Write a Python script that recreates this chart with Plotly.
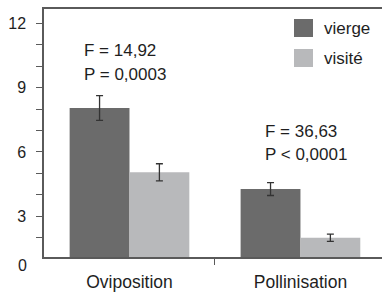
import plotly.graph_objects as go

categories = ["Oviposition", "Pollinisation"]
vierge = [8.05, 4.27]
vierge_err = [0.58, 0.30]
visite = [5.05, 2.0]
visite_err = [0.40, 0.17]
series_names = ["vierge", "visité"]
major_step = 3
stats_left = ["F = 14,92", "P = 0,0003"]
stats_right = ["F = 36,63", "P < 0,0001"]

DARK = "#6b6b6b"
LIGHT = "#b8b9bb"
TXT = "#1e1e1e"
AX = "#5a5a5a"
FONT = "Liberation Sans, Arial, sans-serif"

W, H = 382, 292
L, T, B = 44, 9, 35
ph = H - T - B
pw = W - L

fig = go.Figure()
fig.add_trace(go.Bar(x=categories, y=vierge, name=series_names[0], marker_color=DARK,
                     marker_line_width=0,
                     error_y=dict(type="data", array=vierge_err, color="#333333", thickness=1.3, width=3.5),
                     showlegend=False))
fig.add_trace(go.Bar(x=categories, y=visite, name=series_names[1], marker_color=LIGHT,
                     marker_line_width=0,
                     error_y=dict(type="data", array=visite_err, color="#333333", thickness=1.3, width=3.5),
                     showlegend=False))
fig.add_trace(go.Scatter(x=[0.5], y=[None], xaxis="x2", showlegend=False, hoverinfo="skip"))

xr = [-0.5, 1.477]
fig.update_layout(
    template="none",
    width=W, height=H,
    margin=dict(l=L, r=0, t=T, b=B, pad=0),
    paper_bgcolor="white", plot_bgcolor="white",
    barmode="group", bargap=0.30, bargroupgap=0,
    font=dict(family=FONT, size=17, color=TXT),
    xaxis=dict(type="category", range=xr, showline=True, linecolor=AX, linewidth=1.5,
               mirror=True, ticks="", showgrid=False, zeroline=False, automargin=False,
               tickfont=dict(size=17.5, color=TXT), ticklabelstandoff=8),
    xaxis2=dict(overlaying="x", anchor="y", side="bottom", range=xr, tickmode="array",
                tickvals=[0.5], ticks="outside", ticklen=7, tickwidth=1.3, tickcolor=AX,
                showticklabels=False, showline=False, showgrid=False, zeroline=False,
                automargin=False),
    yaxis=dict(range=[1.1, 12.67], tickmode="linear", tick0=0, dtick=major_step,
               ticks="outside", ticklen=6,
               tickwidth=1.3, tickcolor=AX, showline=True, linecolor=AX, linewidth=1.5,
               showgrid=False, zeroline=False, tickfont=dict(size=16, color=TXT),
               ticklabelstandoff=7, automargin=False,
               minor=dict(dtick=1, tick0=0, ticks="outside", ticklen=6, tickwidth=1.3,
                          tickcolor=AX, showgrid=False)),
)

def px_x(x):
    return (x - L) / pw

def px_y(y):
    return (H - B - y) / ph

anns = []
anns.append(dict(text="0", xref="paper", yref="paper", x=px_x(29), y=px_y(265.5),
                 xanchor="right", yanchor="middle", showarrow=False,
                 font=dict(size=16, color=TXT)))
for i, s in enumerate(stats_left):
    anns.append(dict(text=s, xref="paper", yref="paper", x=px_x(82), y=px_y(51 + 23 * i),
                     xanchor="left", yanchor="middle", showarrow=False,
                     font=dict(size=17, color=TXT)))
for i, s in enumerate(stats_right):
    anns.append(dict(text=s, xref="paper", yref="paper", x=px_x(263), y=px_y(131 + 23 * i),
                     xanchor="left", yanchor="middle", showarrow=False,
                     font=dict(size=17, color=TXT)))
shapes = []
for i, (nm, col) in enumerate(zip(series_names, [DARK, LIGHT])):
    yc = 28 + 30 * i
    shapes.append(dict(type="rect", xref="paper", yref="paper",
                       x0=px_x(294), x1=px_x(313), y0=px_y(yc + 9), y1=px_y(yc - 9),
                       fillcolor=col, line_width=0))
    anns.append(dict(text=nm, xref="paper", yref="paper", x=px_x(322), y=px_y(yc),
                     xanchor="left", yanchor="middle", showarrow=False,
                     font=dict(size=17, color=TXT)))
fig.update_layout(annotations=anns, shapes=shapes)

fig.write_html("out.html", config={"displayModeBar": False},
               post_script="document.body.style.margin='0';document.body.style.padding='0';")
